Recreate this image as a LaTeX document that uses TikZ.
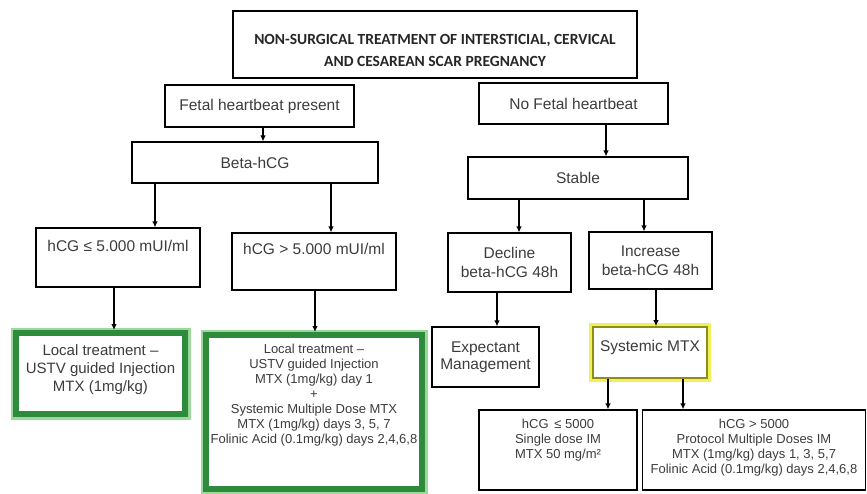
\documentclass[tikz,border=0pt]{standalone}
\usepackage{fontspec}
\setmainfont{Liberation Sans}
\newfontfamily\titlefont{Carlito}
\usetikzlibrary{arrows.meta}

\definecolor{txtgray}{HTML}{3C3C3C}
\definecolor{boxgreen}{HTML}{2E8B3C}
\definecolor{glowgreen}{HTML}{9CD89C}
\definecolor{boxolive}{HTML}{8E8E14}
\definecolor{glowyellow}{HTML}{F0F05A}

\tikzset{
  box/.style={draw, line width=1.1pt, align=center, inner sep=2pt, text=txtgray, font=\fontsize{15.5}{18}\selectfont},
  greenbox/.style={box, draw=boxgreen, line width=6pt, fill=white, preaction={draw=glowgreen, line width=11pt}},
  yellowbox/.style={box, draw=boxolive, line width=1.6pt, fill=white, preaction={draw=glowyellow, line width=8pt}},
  arr/.style={line width=1.8pt, -{Latex[length=6pt,width=5.5pt]}}
}

\begin{document}
\begin{tikzpicture}[x=1pt, y=-1pt]
      \useasboundingbox (0,0) rectangle (867,493);

      \node[box, line width=1.5pt, text=black!85, font=\titlefont\bfseries\fontsize{15.5}{22}\selectfont, minimum width=404pt, minimum height=67pt, text height=44pt] (title) at (435,44.5) {NON-SURGICAL TREATMENT OF INTERSTICIAL, CERVICAL\\AND CESAREAN SCAR PREGNANCY};
      \node[box, minimum width=189pt, minimum height=42pt] (fhp) at (259.5,106) {Fetal heartbeat present};
      \node[box, minimum width=189pt, minimum height=41pt] (nofhp) at (573.5,103.5) {No Fetal heartbeat};
      \node[box, minimum width=246pt, minimum height=41pt] (beta) at (255,162.5) {Beta-hCG};
      \node[box, minimum width=220pt, minimum height=42pt] (stable) at (578,178) {Stable};
      \node[box, minimum width=164pt, minimum height=59pt, text depth=23pt] (low) at (118,257.5) {hCG ≤ 5.000 mUI/ml};
      \node[box, minimum width=164pt, minimum height=57pt, text depth=25pt] (high) at (314,261.5) {hCG > 5.000 mUI/ml};
      \node[box, font=\fontsize{15.5}{19}\selectfont, minimum width=123pt, minimum height=59pt] (decline) at (509.5,262.5) {Decline\\beta-hCG 48h};
      \node[box, font=\fontsize{15.5}{19}\selectfont, minimum width=123pt, minimum height=57pt] (increase) at (650.5,260.5) {Increase\\beta-hCG 48h};
      \node[greenbox, font=\fontsize{15}{18}\selectfont, minimum width=169pt, minimum height=81pt, text depth=11pt] (local) at (100.5,373.5) {Local treatment --\\USTV guided Injection\\MTX (1mg/kg)};
      \node[greenbox, font=\fontsize{13}{15}\selectfont, minimum width=216pt, minimum height=154pt, text depth=37pt] (localsys) at (314,412) {Local treatment --\\USTV guided Injection\\MTX (1mg/kg) day 1\\+\\Systemic Multiple Dose MTX\\MTX (1mg/kg) days 3, 5, 7\\Folinic Acid (0.1mg/kg) days 2,4,6,8};
      \node[box, font=\fontsize{15.5}{17}\selectfont, minimum width=107pt, minimum height=60pt] (expect) at (485.5,357) {Expectant\\Management};
      \node[yellowbox, minimum width=114pt, minimum height=51pt, text depth=13pt] (sysmtx) at (650,352.5) {Systemic MTX};
      \node[box, font=\fontsize{13}{15}\selectfont, minimum width=158pt, minimum height=80pt, text depth=23pt] (sdose) at (558,450) {hCG \,≤ 5000\\Single dose IM\\MTX 50 mg/m²};
      \node[box, font=\fontsize{13}{15}\selectfont, minimum width=223pt, minimum height=80pt, text depth=8pt] (mdose) at (754,450) {hCG > 5000\\Protocol Multiple Doses IM\\MTX (1mg/kg) days 1, 3, 5,7\\Folinic Acid (0.1mg/kg) days 2,4,6,8};

      \draw[arr] (263,0 |- fhp.south) -- (263,0 |- beta.north);
      \draw[arr] (606,0 |- nofhp.south) -- (606,0 |- stable.north);
      \draw[arr] (155,0 |- beta.south) -- (155,0 |- low.north);
      \draw[arr] (331,0 |- beta.south) -- (331,0 |- high.north);
      \draw[arr] (519,0 |- stable.south) -- (519,0 |- decline.north);
      \draw[arr] (644,0 |- stable.south) -- (644,0 |- increase.north);
      \draw[arr] (114,0 |- low.south) -- (114,0 |- local.north);
      \draw[arr] (315,0 |- high.south) -- (315,0 |- localsys.north);
      \draw[arr] (497,0 |- decline.south) -- (497,0 |- expect.north);
      \draw[arr] (656,0 |- increase.south) -- (656,0 |- sysmtx.north);
      \draw[arr] (608,0 |- sysmtx.south) -- (608,0 |- sdose.north);
      \draw[arr] (683,0 |- sysmtx.south) -- (683,0 |- mdose.north);
    \end{tikzpicture}
\end{document}
